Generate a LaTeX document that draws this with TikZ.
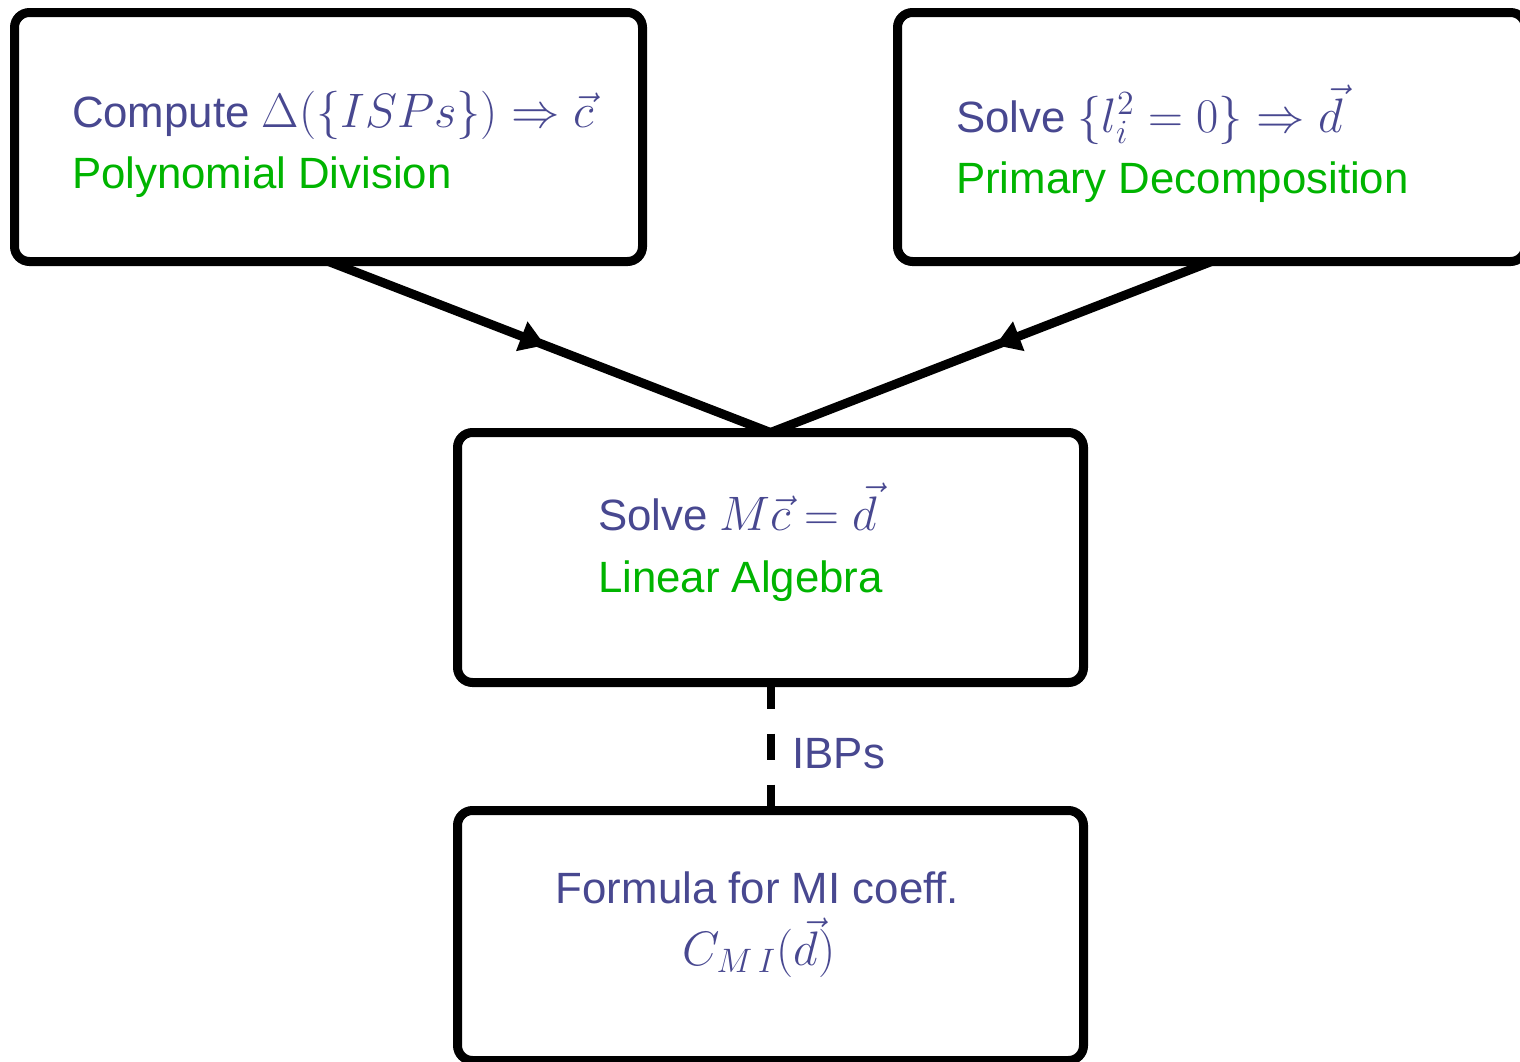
\RequirePackage{fix-cm}
\documentclass[tikz,border=0pt]{standalone}
\usepackage[no-math]{fontspec}
\setmainfont[Scale=0.905]{Liberation Sans}
\usetikzlibrary{arrows.meta,decorations.markings}
\definecolor{structblue}{RGB}{72,72,144}
\definecolor{algogreen}{RGB}{0,180,0}
\tikzset{
  box/.style={draw=black, line width=4.5pt, rounded corners=7.5pt,
    minimum width=314pt, minimum height=124.5pt, inner sep=0pt, outer sep=0pt},
  txt/.style={inner sep=0pt, outer sep=0pt, font=\fontsize{24.2}{28}\selectfont},
  bluetxt/.style={txt, text=structblue},
  greentxt/.style={txt, text=algogreen},
  flow/.style={line width=4.5pt, postaction={decorate},
    decoration={markings, mark=at position 0.49 with {\arrow{Triangle[length=12.5pt,width=15pt]}}}},
  ibp/.style={line width=4pt, dash pattern=on 13pt off 12.5pt}
}
\begin{document}
\begin{tikzpicture}[x=0.5pt,y=-0.5pt]
\useasboundingbox (0,0) rectangle (1520,1061);
\clip (0,0) rectangle (1520,1061);
% boxes
\node[box] (A) at (328.5,137) {};
\node[box] (B) at (1211.5,137) {};
\node[box, minimum width=313pt, minimum height=125pt] (C) at (770.5,557.5) {};
\node[box, minimum width=313pt, minimum height=125pt] (D) at (770.5,935.5) {};
% texts
\node[bluetxt, anchor=base west] (a1) at (72,127) {Compute $\Delta(\{ISPs\})\Rightarrow\vec{c}$};
\node[greentxt, anchor=base west] (a2) at (72,188) {Polynomial Division};
\node[bluetxt, anchor=base west] (b1) at (956,132) {Solve $\{l_i^2=0\}\Rightarrow\vec{d}$};
\node[greentxt, anchor=base west] (b2) at (956,193) {Primary Decomposition};
\node[bluetxt, anchor=base west] (c1) at (598,530) {Solve $M\vec{c}=\vec{d}$};
\node[greentxt, anchor=base west] (c2) at (598,592) {Linear Algebra};
\node[bluetxt, anchor=base] (d1) at (757.5,903) {Formula for MI coeff.};
\node[bluetxt, anchor=base] (d2) at (759,965) {$C_{M\,I}(\vec{d})$};
% connectors
\draw[flow] (A.south) -- (C.north);
\draw[flow] (B.south) -- (C.north);
\draw[ibp] (C.south) -- node[bluetxt, anchor=base west, xshift=11pt, yshift=-11pt] (ibps) {IBPs} (D.north);
\end{tikzpicture}
\end{document}
